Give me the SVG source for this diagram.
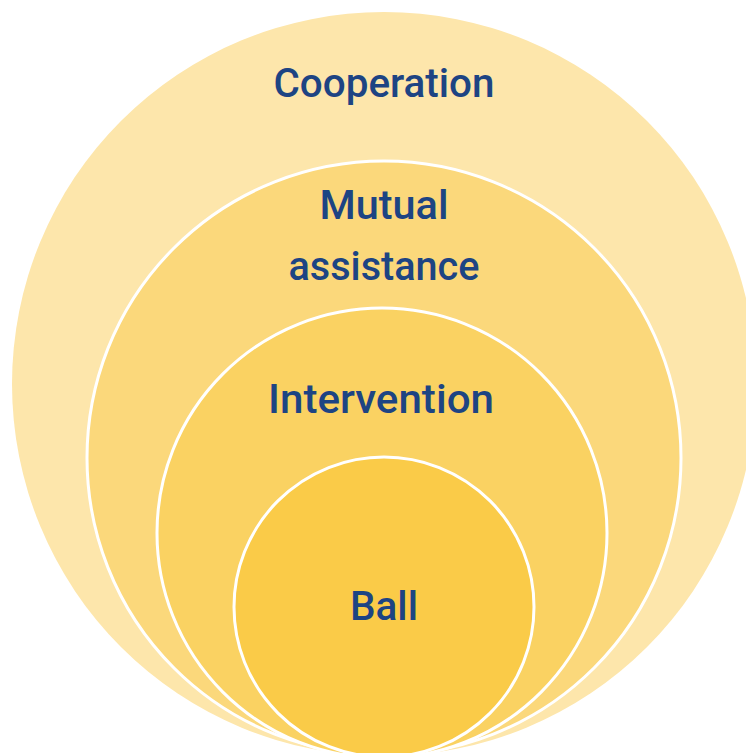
<svg xmlns="http://www.w3.org/2000/svg" width="746" height="753" viewBox="0 0 746 753">
  <style>
    .ring { stroke: #ffffff; stroke-width: 3; }
    .label { font-family: Roboto, "Noto Sans", "DejaVu Sans", sans-serif; font-weight: 500; font-size: 41px; fill: #1d4483; text-anchor: middle; }
  </style>
  <rect width="746" height="753" fill="#ffffff"/>
  <g id="cooperation">
    <circle cx="384" cy="384" r="372" fill="#fde6ab"/>
    <text class="label" x="384" y="97" textLength="221" lengthAdjust="spacingAndGlyphs">Cooperation</text>
  </g>
  <g id="mutual-assistance">
    <circle class="ring" cx="384" cy="458" r="297" fill="#fbd87b"/>
    <text class="label" x="384" y="219" textLength="129" lengthAdjust="spacingAndGlyphs">Mutual</text>
    <text class="label" x="384" y="280" textLength="191" lengthAdjust="spacingAndGlyphs">assistance</text>
  </g>
  <g id="intervention">
    <circle class="ring" cx="382" cy="533" r="225" fill="#fad262"/>
    <text class="label" x="381" y="413" textLength="226" lengthAdjust="spacingAndGlyphs">Intervention</text>
  </g>
  <g id="ball">
    <circle class="ring" cx="384" cy="607" r="150" fill="#facb48"/>
    <text class="label" x="384" y="620" textLength="68" lengthAdjust="spacingAndGlyphs">Ball</text>
  </g>
  <g id="connectors"/>
</svg>
